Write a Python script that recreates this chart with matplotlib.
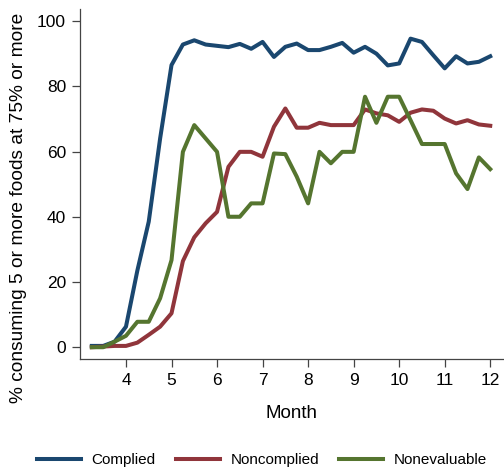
import numpy as np
import matplotlib
matplotlib.use("Agg")
import matplotlib.pyplot as plt

plt.rcParams['font.family'] = ['Liberation Sans', 'DejaVu Sans']

# month, measured every quarter month
month = [3.25, 3.5, 3.75, 4, 4.25, 4.5, 4.75, 5, 5.25, 5.5, 5.75, 6,
         6.25, 6.5, 6.75, 7, 7.25, 7.5, 7.75, 8, 8.25, 8.5, 8.75, 9,
         9.25, 9.5, 9.75, 10, 10.25, 10.5, 10.75, 11, 11.25, 11.5, 11.75, 12]

complied = [0.4, 0.4, 1.7, 6.3, 23.5, 38.5, 64.0, 86.5, 92.8, 94.1, 92.8, 92.4,
            92.0, 93.0, 91.5, 93.6, 89.0, 92.1, 93.1, 91.1, 91.1, 92.1, 93.3, 90.3,
            92.1, 90.0, 86.4, 87.0, 94.6, 93.6, 89.5, 85.5, 89.2, 87.0, 87.5, 89.2]

noncomplied = [0.0, 0.2, 0.4, 0.4, 1.4, 3.8, 6.3, 10.4, 26.4, 33.7, 38.0, 41.5,
               55.3, 59.9, 59.9, 58.4, 67.6, 73.2, 67.3, 67.3, 68.8, 68.1, 68.1, 68.1,
               72.9, 71.7, 71.1, 69.1, 71.9, 72.9, 72.5, 70.1, 68.6, 69.6, 68.3, 67.9]

nonevaluable = [0.0, 0.0, 1.7, 3.5, 7.8, 7.8, 15.0, 26.7, 59.9, 68.1, 64.0, 59.9,
                40.0, 40.0, 44.1, 44.1, 59.4, 59.2, 52.3, 44.1, 59.9, 56.4, 59.9, 59.9,
                76.8, 68.8, 76.8, 76.8, 69.6, 62.3, 62.3, 62.3, 53.3, 48.5, 58.2, 54.6]

xticks = [4, 5, 6, 7, 8, 9, 10, 11, 12]
yticks = [0, 20, 40, 60, 80, 100]

fig = plt.figure(figsize=(5.04, 4.75), dpi=100)
ax = fig.add_axes([0.1587, 0.2436, 0.8393, 0.7368])

ax.plot(month, complied, color='#1a476f', lw=2.9, label='Complied')
ax.plot(month, noncomplied, color='#90353b', lw=2.9, label='Noncomplied')
ax.plot(month, nonevaluable, color='#55752f', lw=2.9, label='Nonevaluable')

ax.set_xlim(2.99, 12.28)
ax.set_ylim(-3.7, 103.6)
ax.set_xticks(xticks)
ax.set_yticks(yticks)
ax.tick_params(labelsize=12.5, length=6, width=0.9, color='#444444', pad=4)

for s in ['top', 'right']:
    ax.spines[s].set_visible(False)
for s in ['left', 'bottom']:
    ax.spines[s].set_color('#444444')
    ax.spines[s].set_linewidth(0.9)

ax.set_xlabel('Month', fontsize=13.5, labelpad=12)
ax.set_ylabel('% consuming 5 or more foods at 75% or more', fontsize=13.8, va='center')
ax.yaxis.set_label_coords(-0.145, 0.432)

fig.legend(loc='lower center', bbox_to_anchor=(0.52, -0.012), ncol=3, frameon=False,
           fontsize=11, handlelength=2.9, handletextpad=0.7, columnspacing=1.3)

fig.savefig('out.png', dpi=100)
